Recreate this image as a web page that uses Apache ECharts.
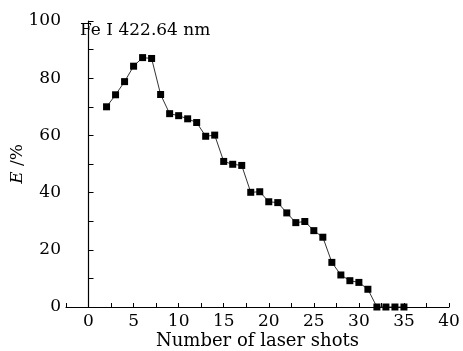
<!DOCTYPE html>
<html>
<head>
<meta charset="utf-8">
<script src="https://cdn.jsdelivr.net/npm/echarts@6/dist/echarts.min.js"></script>
<style>
  html, body { margin: 0; padding: 0; background: #fff; }
  #chart { width: 463px; height: 351px; }
</style>
</head>
<body>
<div id="chart"></div>
<script>
// shots vs E (%)
const shots = [2, 3, 4, 5, 6, 7, 8, 9, 10, 11, 12, 13, 14, 15, 16, 17, 18, 19,
  20, 21, 22, 23, 24, 25, 26, 27, 28, 29, 30, 31, 32, 33, 34, 35];
const efficiency = [70.0, 74.2, 78.8, 84.2, 87.2, 86.9, 74.3, 67.6, 66.9, 65.8,
  64.5, 59.7, 60.1, 50.9, 49.9, 49.5, 40.1, 40.3, 36.8, 36.5, 32.9, 29.5, 29.9,
  26.7, 24.4, 15.6, 11.2, 9.2, 8.6, 6.2, 0, 0, 0, 0];
const xTicks = [0, 5, 10, 15, 20, 25, 30, 35, 40];
const yTicks = [0, 20, 40, 60, 80, 100];

const font = "DejaVu Serif";
const chart = echarts.init(document.getElementById("chart"));

chart.setOption({
  animation: false,
  grid: { left: 66, right: 14, top: 21, bottom: 44, outerBoundsMode: "none" },
  graphic: [{
    type: "text",
    left: 80,
    top: 22,
    style: { text: "Fe I 422.64 nm", font: "17px " + font, fill: "#000" }
  }],
  xAxis: {
    type: "value",
    min: -2.5,
    max: 40,
    interval: 2.5,
    name: "Number of laser shots",
    nameLocation: "middle",
    nameGap: 25,
    nameMoveOverlap: false,
    nameTextStyle: { fontFamily: font, fontSize: 18, color: "#000" },
    axisLine: { lineStyle: { color: "#000", width: 1.2 } },
    axisTick: { inside: true, length: 4, lineStyle: { color: "#000" } },
    splitLine: { show: false },
    axisLabel: {
      margin: 6,
      fontFamily: font, fontSize: 17, color: "#000",
      formatter: v => xTicks.indexOf(v) >= 0 ? String(v) : ""
    }
  },
  yAxis: {
    type: "value",
    min: 0,
    max: 100,
    interval: 10,
    name: "{i|E} /%",
    nameLocation: "middle",
    nameGap: 40,
    nameMoveOverlap: false,
    nameRotate: 90,
    nameTextStyle: {
      fontFamily: font, fontSize: 17, color: "#000",
      rich: { i: { fontFamily: font, fontSize: 17, fontStyle: "italic", color: "#000" } }
    },
    axisLine: { show: true, lineStyle: { color: "#000", width: 1.2 } },
    axisTick: { inside: true, length: 5, lineStyle: { color: "#000" } },
    splitLine: { show: false },
    axisLabel: {
      margin: 5,
      fontFamily: font, fontSize: 17, color: "#000",
      formatter: v => yTicks.indexOf(v) >= 0 ? String(v) : ""
    }
  },
  series: [{
    type: "line",
    data: shots.map((s, i) => [s, efficiency[i]]),
    symbol: "rect",
    symbolSize: 7,
    itemStyle: { color: "#000" },
    lineStyle: { color: "#333", width: 1 }
  }]
});
</script>
</body>
</html>
